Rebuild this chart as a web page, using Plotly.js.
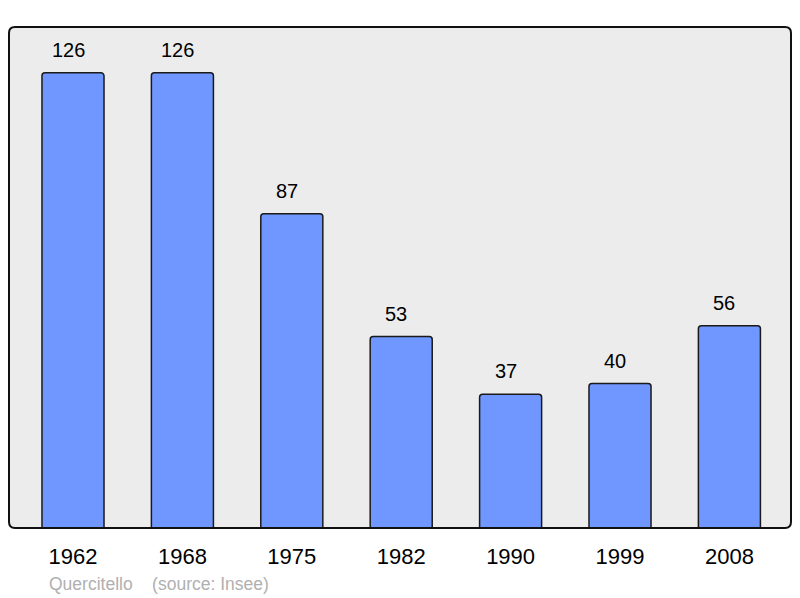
<!DOCTYPE html>
<html><head><meta charset="utf-8">
<script src="https://cdn.plot.ly/plotly-3.0.1.min.js"></script>
<style>html,body{margin:0;padding:0;background:#fff}</style>
</head><body><div id="chart" style="width:800px;height:598px"></div>
<script>
const years = ["1962","1968","1975","1982","1990","1999","2008"];
const population = [126,126,87,53,37,40,56];
const footer = "Quercitello    (source: Insee)";

const trace = {
  type: "bar",
  x: years,
  y: population,
  width: 0.567,
  marker: {color: "#7097ff", line: {color: "#1a1a1a", width: 1.5}, cornerradius: 3},
  hoverinfo: "skip"
};

const annotations = years.map((yr, i) => ({
  x: i, y: population[i], xref: "x", yref: "y",
  text: String(population[i]), showarrow: false,
  yanchor: "bottom", yshift: 10, xshift: -5,
  font: {family: "Liberation Sans, Arial, sans-serif", size: 20, color: "#000"}
}));
annotations.push({
  xref: "paper", yref: "paper", x: (47 - 9) / 782, xanchor: "left",
  y: -56/501, yanchor: "middle", showarrow: false,
  text: footer.replace(/ /g, "&nbsp;"),
  font: {family: "Liberation Sans, Arial, sans-serif", size: 17.5, color: "#b0b0b0"}
});

const rx = 6/782, ry = 6/501;
const framePath = `M ${rx} 0 L ${1-rx} 0 Q 1 0 1 ${ry} L 1 ${1-ry} Q 1 1 ${1-rx} 1 L ${rx} 1 Q 0 1 0 ${1-ry} L 0 ${ry} Q 0 0 ${rx} 0 Z`;

const layout = {
  width: 800, height: 598,
  margin: {l: 9, r: 9, t: 27, b: 70, pad: 0},
  paper_bgcolor: "#ffffff",
  plot_bgcolor: "rgba(0,0,0,0)",
  showlegend: false,
  xaxis: {
    type: "category", range: [-0.585, 6.563],
    showgrid: false, zeroline: false, showline: false, ticks: "",
    tickfont: {family: "Liberation Sans, Arial, sans-serif", size: 22, color: "#000"},
    ticklabelstandoff: 13, fixedrange: true
  },
  yaxis: {range: [0, 138.7], visible: false, showgrid: false, zeroline: false, fixedrange: true},
  annotations: annotations,
  shapes: [
    {type: "path", xref: "paper", yref: "paper", path: framePath,
     line: {width: 0}, fillcolor: "#ececec", layer: "below"},
    {type: "path", xref: "paper", yref: "paper", path: framePath,
     line: {color: "#111", width: 2}, fillcolor: "rgba(0,0,0,0)", layer: "above"}
  ]
};

Plotly.newPlot("chart", [trace], layout, {displayModeBar: false, staticPlot: true});
</script>
</body></html>
